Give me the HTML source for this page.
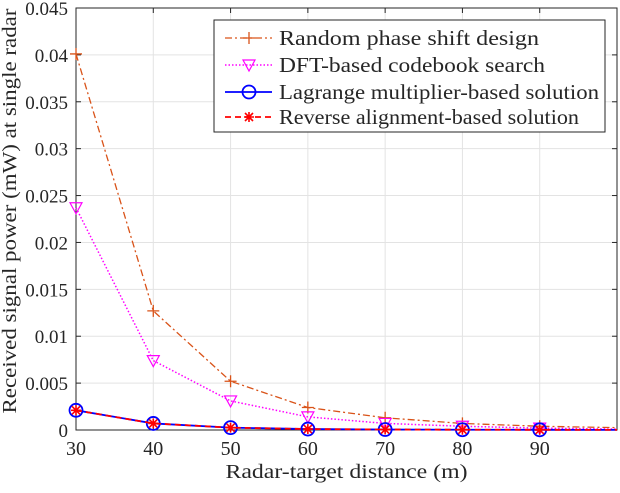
<!DOCTYPE html>
<html><head><meta charset="utf-8"><style>
body{margin:0;background:#fff;}
svg text{font-family:"Liberation Serif",serif;fill:#262626;}
</style></head><body>
<svg id="chart" width="620" height="488">
<g id="grid"></g><g id="axes"></g><g id="series"></g><g id="legend"></g>
</svg>
<script>
const xCats=[30,40,50,60,70,80,90,100];
const randomVals=[0.0401,0.0127,0.0052,0.0024,0.0013,0.0007,0.0004,0.00025];
const dftVals=[0.0237,0.0074,0.0031,0.0014,0.0007,0.0004,0.0002,0.0001];
const lagVals=[0.0021,0.0007,0.00025,0.0001,0.00005,0.00003,0.00002,0.00001];
const revVals=[0.0021,0.0007,0.00025,0.0001,0.00005,0.00003,0.00002,0.00001];
const xTicks=[30,40,50,60,70,80,90];
const yTicks=[0,0.005,0.01,0.015,0.02,0.025,0.03,0.035,0.04,0.045];
const yTickLabels=["0","0.005","0.01","0.015","0.02","0.025","0.03","0.035","0.04","0.045"];
const legendLabels=["Random phase shift design","DFT-based codebook search","Lagrange multiplier-based solution","Reverse alignment-based solution"];

const L=76,R=617,T=8,B=430;
const xs=v=>L+(v-30)/70*(R-L);
const ys=v=>B-v/0.045*(B-T);
const NS="http://www.w3.org/2000/svg";
function mk(p,tag,a){const e=document.createElementNS(NS,tag);for(const k in a)e.setAttribute(k,a[k]);p.appendChild(e);return e;}
const grid=document.getElementById('grid'),axes=document.getElementById('axes'),series=document.getElementById('series'),leg=document.getElementById('legend');
mk(grid,'rect',{x:L,y:T,width:R-L,height:B-T,fill:'#fff'});
xTicks.forEach(t=>{const l=mk(grid,'line',{x1:xs(t),x2:xs(t),y1:T,y2:B,stroke:'#e3e3e3','stroke-width':1});

const tx=mk(axes,'text',{x:xs(t),y:B+25,'text-anchor':'middle','font-size':20});tx.textContent=t;

mk(axes,'line',{x1:xs(t),x2:xs(t),y1:B,y2:B-5,stroke:'#262626'});mk(axes,'line',{x1:xs(t),x2:xs(t),y1:T,y2:T+5,stroke:'#262626'});});
yTicks.forEach((t,i)=>{const l=mk(grid,'line',{x1:L,x2:R,y1:ys(t),y2:ys(t),stroke:'#e3e3e3','stroke-width':1});

const tx=mk(axes,'text',{x:L-8,y:ys(t)+7,'text-anchor':'end','font-size':19});tx.textContent=yTickLabels[i];

mk(axes,'line',{x1:L,x2:L+5,y1:ys(t),y2:ys(t),stroke:'#262626'});mk(axes,'line',{x1:R,x2:R-5,y1:ys(t),y2:ys(t),stroke:'#262626'});});
const fr=mk(axes,'rect',{x:L,y:T,width:R-L,height:B-T,fill:'none',stroke:'#262626','stroke-width':1});

const xt=mk(axes,'text',{x:(L+R)/2,y:478,'text-anchor':'middle','font-size':20,textLength:242,lengthAdjust:'spacingAndGlyphs'});xt.textContent='Radar-target distance (m)';

const yt=mk(axes,'text',{x:0,y:0,'text-anchor':'middle','font-size':20,textLength:405,lengthAdjust:'spacingAndGlyphs',transform:'translate(16,'+((T+B)/2-8)+') rotate(-90)'});yt.textContent='Received signal power (mW) at single radar';


function marker(g,type,x,y,c){
 if(type==='plus'){mk(g,'path',{d:`M${x-6},${y}H${x+6}M${x},${y-6}V${y+6}`,stroke:c,'stroke-width':1.3,fill:'none'});}
 else if(type==='tri'){mk(g,'path',{d:`M${x-6},${y-5}L${x+6},${y-5}L${x},${y+6}Z`,stroke:c,'stroke-width':1.2,fill:'none'});}
 else if(type==='circ'){mk(g,'circle',{cx:x,cy:y,r:6.5,stroke:c,'stroke-width':1.8,fill:'none'});}
 else if(type==='star'){mk(g,'path',{d:`M${x-5},${y}H${x+5}M${x},${y-5}V${y+5}M${x-4},${y-4}L${x+4},${y+4}M${x-4},${y+4}L${x+4},${y-4}`,stroke:c,'stroke-width':1.6,fill:'none'});}
}
const defs=[
 {vals:randomVals,c:'#d95319',dash:'7 3 2 3',w:1.3,m:'plus',name:'random-phase-series'},
 {vals:dftVals,c:'#ff00ff',dash:'1.5 2',w:1.5,m:'tri',name:'dft-codebook-series'},
 {vals:lagVals,c:'#0000ff',dash:'',w:1.8,m:'circ',name:'lagrange-series'},
 {vals:revVals,c:'#ff0000',dash:'6 4',w:1.8,m:'star',name:'reverse-alignment-series'}];
defs.forEach(d=>{const g=mk(series,'g',{});
 
 const pts=d.vals.map((v,i)=>xs(xCats[i])+','+ys(v)).join(' ');
 mk(g,'polyline',{points:pts,fill:'none',stroke:d.c,'stroke-width':d.w,'stroke-dasharray':d.dash});
 d.vals.forEach((v,i)=>{if(xCats[i]<100)marker(g,d.m,xs(xCats[i]),ys(v),d.c);});});
// legend
const lb=mk(leg,'rect',{x:214,y:20,width:391,height:112,fill:'#fff',stroke:'#262626','stroke-width':1});

const ly=[38,65,92,117];
const lw=[260,266,320,300];
defs.forEach((d,i)=>{const g=mk(leg,'g',{});
 
 mk(g,'line',{x1:225,x2:272,y1:ly[i],y2:ly[i],stroke:d.c,'stroke-width':d.w,'stroke-dasharray':d.dash});
 marker(g,d.m,249,ly[i],d.c);
 const t=mk(g,'text',{x:279,y:ly[i]+7,'font-size':21,fill:'#000',textLength:lw[i],lengthAdjust:'spacingAndGlyphs'});t.textContent=legendLabels[i];});
</script>
</body></html>
